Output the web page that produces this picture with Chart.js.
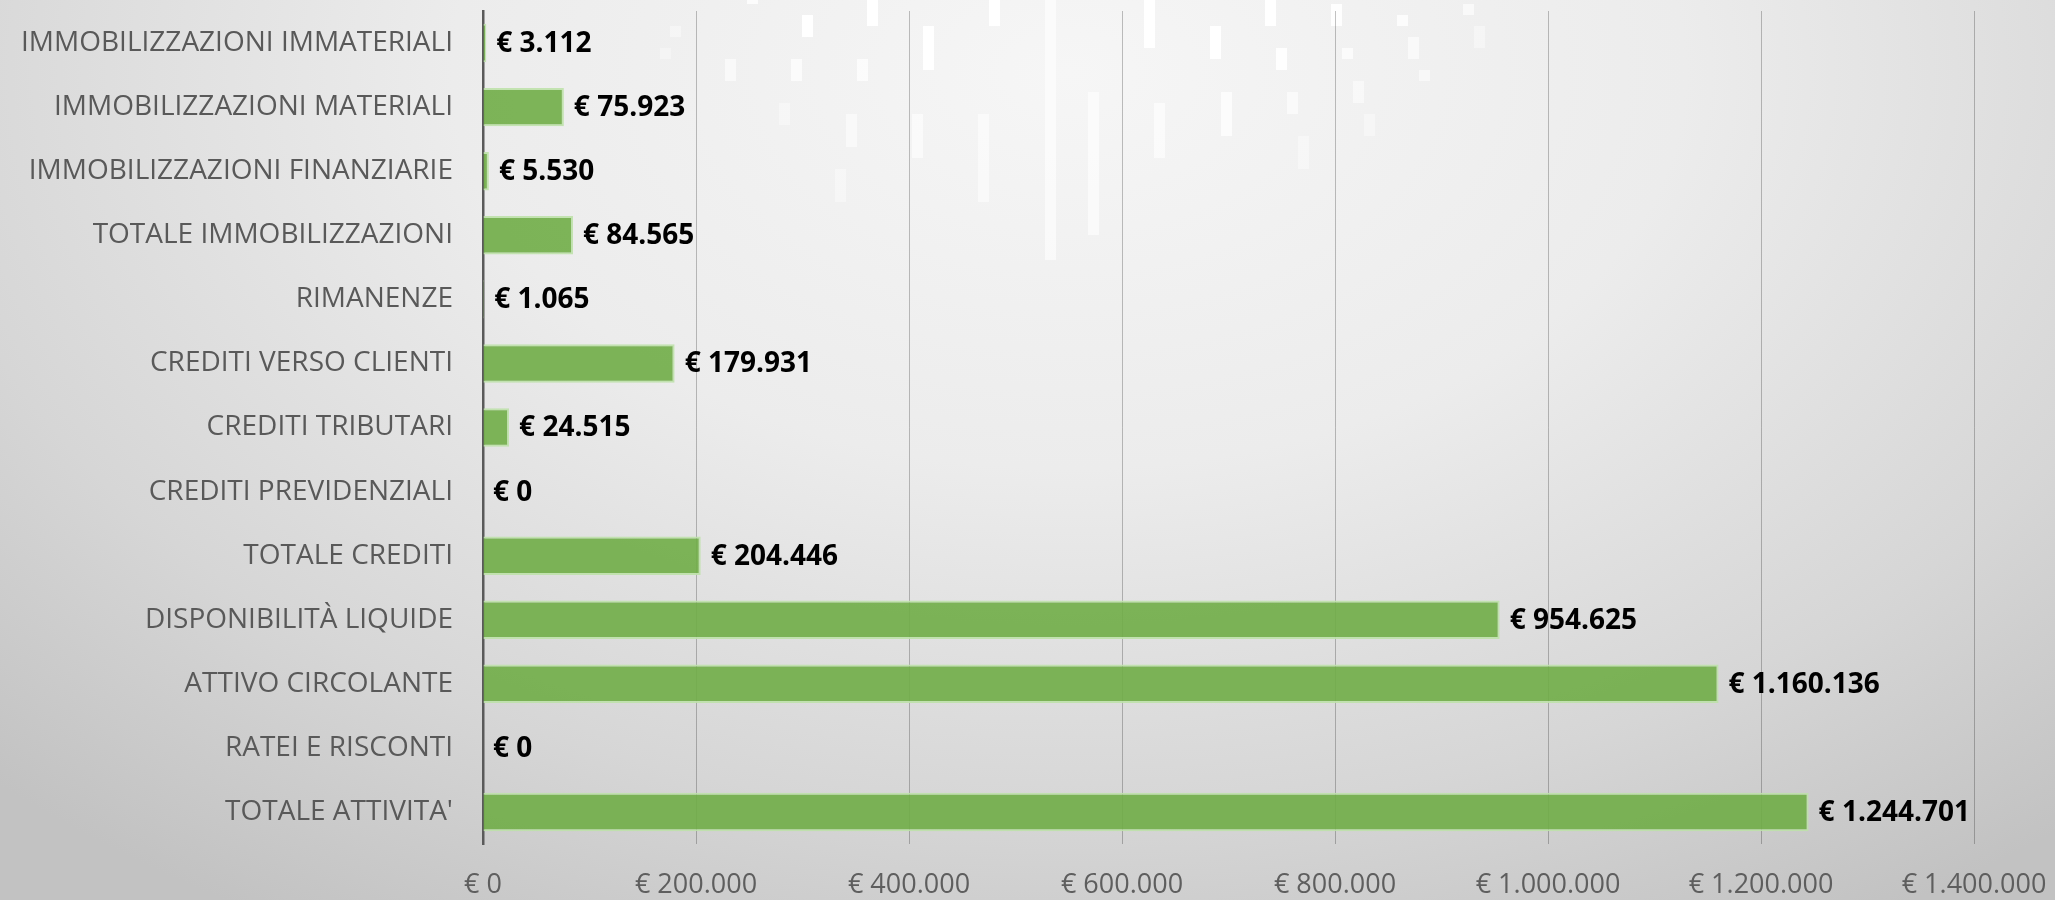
<!DOCTYPE html>
<html>
<head>
<meta charset="utf-8">
<script src="https://cdn.jsdelivr.net/npm/chart.js@4"></script>
<style>
body { margin: 0; }
#box {
  width: 2055px; height: 900px; position: relative; overflow: hidden;
  background: radial-gradient(ellipse 75% 110% at 52% 8%, #f6f6f6 0%, #ececec 40%, #d6d6d6 75%, #c2c2c2 100%);
}
#box canvas { position: absolute; left: 0; top: 0; }
.deco { position: absolute; background: #ffffff; }
</style>
</head>
<body>
<div id="box"><canvas id="myChart" width="2055" height="900"></canvas></div>
<script>
var voci = ['IMMOBILIZZAZIONI IMMATERIALI', 'IMMOBILIZZAZIONI MATERIALI', 'IMMOBILIZZAZIONI FINANZIARIE',
  'TOTALE IMMOBILIZZAZIONI', 'RIMANENZE', 'CREDITI VERSO CLIENTI', 'CREDITI TRIBUTARI',
  'CREDITI PREVIDENZIALI', 'TOTALE CREDITI', 'DISPONIBILITÀ LIQUIDE', 'ATTIVO CIRCOLANTE',
  'RATEI E RISCONTI', "TOTALE ATTIVITA'"]
var valori = [3112, 75923, 5530, 84565, 1065, 179931, 24515, 0, 204446, 954625, 1160136, 0, 1244701]
var assex = [0, 200000, 400000, 600000, 800000, 1000000, 1200000, 1400000]

// rettangoli bianchi dello sfondo (solo decorazione)
var sfondo = [
  [802, 15, 11, 22, 1], [867, 0, 11, 26, 1], [989, 0, 11, 26, 1], [1045, 0, 11, 260, 0.6],
  [1144, 0, 11, 48, 1], [1265, 0, 11, 26, 1], [923, 26, 11, 44, 1], [1210, 26, 11, 33, 1],
  [1276, 48, 11, 22, 0.9], [1088, 92, 11, 143, 0.6], [1221, 92, 11, 44, 0.7], [1154, 103, 11, 55, 0.6],
  [978, 114, 11, 88, 0.5], [912, 114, 11, 44, 0.6], [846, 114, 11, 33, 0.5], [725, 59, 11, 22, 0.6],
  [791, 59, 11, 22, 0.7], [857, 59, 11, 22, 0.7], [779, 103, 11, 22, 0.4], [835, 169, 11, 33, 0.4],
  [1287, 92, 11, 22, 0.6], [1298, 136, 11, 33, 0.4], [1342, 48, 11, 11, 0.7], [1353, 81, 11, 22, 0.5],
  [1331, 4, 11, 22, 0.9], [1397, 15, 11, 11, 0.8], [1408, 37, 11, 22, 0.6], [1419, 70, 11, 11, 0.5],
  [1364, 114, 11, 22, 0.4], [1463, 4, 11, 11, 0.6], [1474, 26, 11, 22, 0.4], [747, 0, 11, 4, 0.8],
  [670, 26, 11, 11, 0.4], [660, 48, 11, 11, 0.3]
]
sfondo.forEach(function(r) {
  var d = document.createElement('div')
  d.className = 'deco'
  d.style.left = r[0] + 'px'
  d.style.top = r[1] + 'px'
  d.style.width = r[2] + 'px'
  d.style.height = r[3] + 'px'
  d.style.opacity = r[4]
  document.getElementById('box').insertBefore(d, document.getElementById('myChart'))
})

function euro(v) {
  return '€ ' + String(v).replace(/\B(?=(\d{3})+(?!\d))/g, '.')
}

// etichette dei valori a destra delle barre
var etichette = {
  id: 'etichette',
  afterDatasetsDraw: function(chart) {
    var ctx = chart.ctx
    var meta = chart.getDatasetMeta(0)
    ctx.save()
    ctx.font = 'bold 28px "Open Sans"'
    ctx.fillStyle = '#000000'
    ctx.textAlign = 'left'
    ctx.textBaseline = 'middle'
    meta.data.forEach(function(bar, i) {
      ctx.fillText(euro(valori[i]), bar.x + 10, bar.y + 1)
    })
    ctx.restore()
  }
}

Chart.defaults.font.family = '"Open Sans"'

var ctx = document.getElementById('myChart').getContext('2d')
var chart = new Chart(ctx, {
  type: 'bar',
  data: {
    labels: voci,
    datasets: [{
      data: valori,
      backgroundColor: 'rgba(112, 173, 71, 0.9)',
      borderColor: 'rgba(190, 225, 170, 0.9)',
      borderWidth: 2,
      borderSkipped: 'start',
      categoryPercentage: 1,
      barPercentage: 0.6
    }]
  },
  options: {
    indexAxis: 'y',
    responsive: false,
    animation: false,
    layout: { padding: { top: 11, right: 81, left: 0, bottom: 0 } },
    plugins: { legend: { display: false }, tooltip: { enabled: false } },
    scales: {
      x: {
        min: 0,
        max: 1400000,
        afterBuildTicks: function(scale) {
          scale.ticks = assex.map(function(v) { return { value: v } })
        },
        afterFit: function(scale) {
          scale.height = 56
          scale.paddingLeft = 0
          scale.paddingRight = 0
        },
        grid: { color: 'rgba(0, 0, 0, 0.24)', lineWidth: 1, drawTicks: false },
        border: { display: false },
        ticks: {
          padding: 25,
          color: '#5e5e5e',
          font: { size: 27 },
          maxRotation: 0,
          callback: function(v) { return euro(v) }
        }
      },
      y: {
        afterFit: function(scale) {
          scale.width = 483
          scale.paddingTop = 0
          scale.paddingBottom = 0
        },
        grid: { display: false, drawTicks: false },
        border: { display: true, color: '#5a5a5a', width: 2.5 },
        ticks: {
          padding: 30,
          color: '#595959',
          font: { size: 28 },
          autoSkip: false
        }
      }
    }
  },
  plugins: [etichette]
})
</script>
</body>
</html>
